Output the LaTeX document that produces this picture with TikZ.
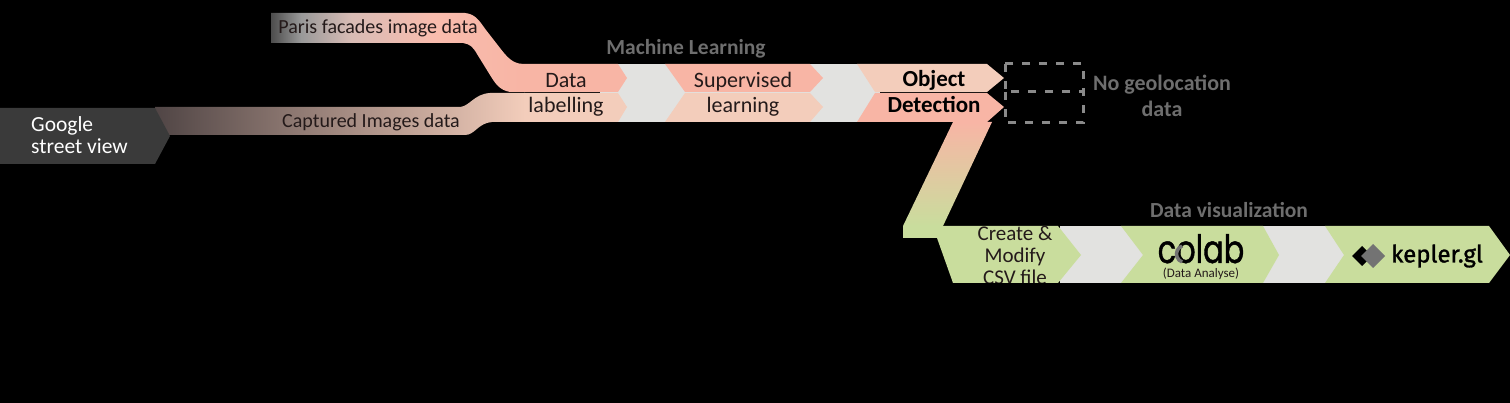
\documentclass[tikz,border=0pt]{standalone}
\usepackage{fontspec}
\usepackage{xcolor}
\setmainfont{Carlito}
\newfontfamily\logofont[FakeBold=1.2]{Poppins}
\newfontfamily\keplerfont[FakeBold=1.2]{Fira Sans}
\definecolor{salmonc}{HTML}{F8B5A5}
\definecolor{peachc}{HTML}{F3CDBB}
\definecolor{greenc}{HTML}{C9DD9D}
\definecolor{palec}{HTML}{E2E2E0}
\definecolor{slatec}{HTML}{3A3A3A}
\definecolor{titlec}{HTML}{6E6E6E}
\definecolor{inkc}{HTML}{241A1A}
\definecolor{dashc}{HTML}{8A8A8A}
\definecolor{umberc}{HTML}{504545}
\pgfdeclarehorizontalshading{parisfade}{100bp}{
  color(0bp)=(black!70); color(25bp)=(black!70); color(31bp)=(black!40);
  color(41bp)=(salmonc!60!gray!70!white); color(57bp)=(salmonc!90!white); color(75bp)=(salmonc); color(100bp)=(salmonc)}
\tikzset{
  rowtext/.style={inner sep=0pt,text=inkc,font=\fontsize{22}{24}\selectfont},
  bandtext/.style={inner sep=0pt,text=inkc,font=\fontsize{20}{22}\selectfont},
  boldtext/.style={inner sep=0pt,text=black,font=\fontsize{23}{25}\selectfont\bfseries},
  titletext/.style={inner sep=0pt,text=titlec,font=\fontsize{21.5}{23}\selectfont\bfseries},
  stacktext/.style={inner sep=0pt,text=inkc,align=center,font=\fontsize{21}{22}\selectfont},
  nogeo/.style={draw=dashc,line width=3pt,dash pattern=on 8pt off 9pt}
}
\begin{document}
\begin{tikzpicture}[x=1pt,y=-1pt]
\useasboundingbox (0,0) rectangle (1510,403);
\fill[black] (0,0) rectangle (1510,403);
% feeding bands
\shade[shading=parisfade] (271,13) -- (465,13) .. controls (476,14) and (480,22) .. (486,30) -- (500,48) .. controls (507,57) and (512,63) .. (522,64) -- (522,92) -- (510,92) .. controls (499,90) and (495,83) .. (490,75) -- (477,54) .. controls (473,47) and (470,44) .. (463,43) -- (271,43) -- cycle;
\shade[left color=umberc,right color=peachc] (155,107) -- (460,107) .. controls (470,106) and (474,94) .. (490,93) -- (525,93) -- (525,122) -- (492,122) .. controls (478,123) and (475,135) .. (465,135) -- (155,135) -- cycle;
\fill[slatec] (0,108) -- (155,108) -- (170,136) -- (155,164) -- (0,164) -- cycle;
% machine learning row
\fill[palec] (600,64) rectangle (880,122);
\fill[salmonc] (520,64) -- (618,64) -- (627,78) -- (618,92) -- (520,92) -- cycle;
\fill[peachc] (524,93) -- (618,93) -- (627,107) -- (618,122) -- (524,122) -- cycle;
\fill[salmonc] (665,64) -- (810,64) -- (823,78) -- (810,92) -- (685,92) -- cycle;
\fill[peachc] (685,93) -- (810,93) -- (823,107) -- (810,122) -- (665,122) -- cycle;
\fill[peachc] (857,64) -- (987,64) -- (1004,78) -- (987,92) -- (875,92) -- cycle;
\fill[salmonc] (875,93) -- (987,93) -- (1004,107) -- (987,122) -- (857,122) -- cycle;
% link down to the second row
\shade[top color=salmonc,bottom color=greenc] (953,122) -- (992,122) -- (943,226) -- (903,226) -- cycle;
\fill[greenc] (903,226) rectangle (945,238);
% visualization row
\fill[palec] (1060,226) rectangle (1350,283);
\fill[greenc] (925,226) -- (1058,226) -- (1081,255) -- (1058,283) -- (953,283) -- (937,238) -- cycle;
\fill[greenc] (1121,226) -- (1263,226) -- (1279,255) -- (1263,283) -- (1121,283) -- (1143,255) -- cycle;
\fill[greenc] (1325,226) -- (1489,226) -- (1510,255) -- (1489,283) -- (1325,283) -- (1344,255) -- cycle;
% no geolocation boxes
\draw[nogeo] (1005,64) rectangle (1083,92);
\draw[nogeo] (1005,92) rectangle (1083,123);
% labels
\node[bandtext] (paris) at (378,28) {Paris facades image data};
\node[bandtext] (captured) at (371,122) {Captured Images data};
\node[rowtext,text=white,align=left,anchor=west,font=\fontsize{21.5}{22}\selectfont] (google) at (31,135) {Google\\street view};
\node[titletext] (mltitle) at (686,49) {Machine Learning};
\node[rowtext] (data) at (566,81) {Data};
\node[rowtext] (labelling) at (566,107) {labelling};
\node[rowtext] (supervised) at (743,82) {Supervised};
\node[rowtext] (learning) at (743,107) {learning};
\node[boldtext] (object) at (934,80) {Object};
\node[boldtext] (detection) at (934,105) {Detection};
\node[titletext] (nogeotext) at (1162,96) [align=center,font=\fontsize{22}{26}\selectfont\bfseries] {No geolocation\\data};
\node[titletext] (vistitle) at (1229,210) {Data visualization};
\begin{scope}
\clip (925,226) rectangle (1081,283);
\node[stacktext] (csv) at (1015,255) {Create \&\\Modify\\CSV file};
\end{scope}
\node[inner sep=0pt,anchor=base,text=black,xscale=.78,font=\fontsize{39}{39}\logofont] (colab) at (1201,263) {colab};
\draw[black!55,line width=3.5pt] (1185,254) ++(-110:8.5) arc (-110:-250:8.5);
\node[inner sep=0pt,text=inkc,font=\fontsize{13}{13}\selectfont] (analyse) at (1201,273.5) {(Data Analyse)};
\fill[black] (1352,256) -- (1362,246) -- (1372,256) -- (1362,266) -- cycle;
\fill[black!55] (1361,256) -- (1373,244) -- (1385,256) -- (1373,268) -- cycle;
\node[inner sep=0pt,text=black,font=\fontsize{24}{24}\keplerfont] (kepler) at (1437,256) {kepler.gl};
\end{tikzpicture}
\end{document}
